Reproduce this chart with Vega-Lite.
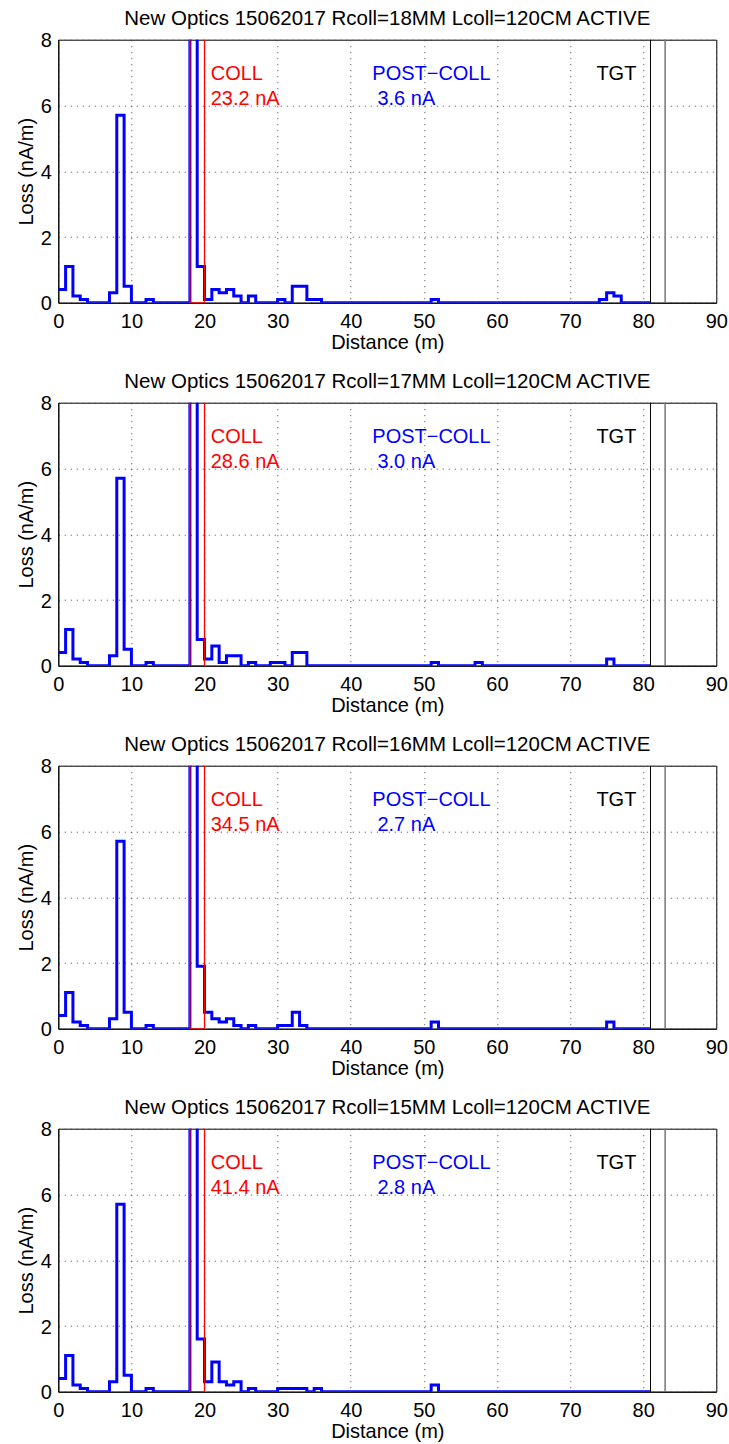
{
  "$schema": "https://vega.github.io/schema/vega-lite/v6.json",
  "padding": {"left": 15.3, "top": 7.7, "right": 5, "bottom": 5},
  "spacing": 17,
  "datasets": {
    "loss": [
      {"panel": 18, "x": 0, "loss": 0.4}, {"panel": 18, "x": 1, "loss": 1.1}, {"panel": 18, "x": 2, "loss": 0.2}, {"panel": 18, "x": 3, "loss": 0.1}, {"panel": 18, "x": 4, "loss": 0}, {"panel": 18, "x": 7, "loss": 0.3}, {"panel": 18, "x": 8, "loss": 5.7}, {"panel": 18, "x": 9, "loss": 0.5}, {"panel": 18, "x": 10, "loss": 0}, {"panel": 18, "x": 12, "loss": 0.1}, {"panel": 18, "x": 13, "loss": 0}, {"panel": 18, "x": 18, "loss": 22.1}, {"panel": 18, "x": 19, "loss": 1.1}, {"panel": 18, "x": 20, "loss": 0.1}, {"panel": 18, "x": 21, "loss": 0.4}, {"panel": 18, "x": 22, "loss": 0.3}, {"panel": 18, "x": 23, "loss": 0.4}, {"panel": 18, "x": 24, "loss": 0.2}, {"panel": 18, "x": 25, "loss": 0}, {"panel": 18, "x": 26, "loss": 0.2}, {"panel": 18, "x": 27, "loss": 0}, {"panel": 18, "x": 30, "loss": 0.1}, {"panel": 18, "x": 31, "loss": 0}, {"panel": 18, "x": 32, "loss": 0.5}, {"panel": 18, "x": 34, "loss": 0.1}, {"panel": 18, "x": 36, "loss": 0}, {"panel": 18, "x": 51, "loss": 0.1}, {"panel": 18, "x": 52, "loss": 0}, {"panel": 18, "x": 74, "loss": 0.1}, {"panel": 18, "x": 75, "loss": 0.3}, {"panel": 18, "x": 76, "loss": 0.2}, {"panel": 18, "x": 77, "loss": 0}, {"panel": 18, "x": 81, "loss": 0},
      {"panel": 17, "x": 0, "loss": 0.4}, {"panel": 17, "x": 1, "loss": 1.1}, {"panel": 17, "x": 2, "loss": 0.2}, {"panel": 17, "x": 3, "loss": 0.1}, {"panel": 17, "x": 4, "loss": 0}, {"panel": 17, "x": 7, "loss": 0.3}, {"panel": 17, "x": 8, "loss": 5.7}, {"panel": 17, "x": 9, "loss": 0.5}, {"panel": 17, "x": 10, "loss": 0}, {"panel": 17, "x": 12, "loss": 0.1}, {"panel": 17, "x": 13, "loss": 0}, {"panel": 17, "x": 18, "loss": 27.8}, {"panel": 17, "x": 19, "loss": 0.8}, {"panel": 17, "x": 20, "loss": 0.2}, {"panel": 17, "x": 21, "loss": 0.6}, {"panel": 17, "x": 22, "loss": 0.1}, {"panel": 17, "x": 23, "loss": 0.3}, {"panel": 17, "x": 25, "loss": 0}, {"panel": 17, "x": 26, "loss": 0.1}, {"panel": 17, "x": 27, "loss": 0}, {"panel": 17, "x": 29, "loss": 0.1}, {"panel": 17, "x": 31, "loss": 0}, {"panel": 17, "x": 32, "loss": 0.4}, {"panel": 17, "x": 34, "loss": 0}, {"panel": 17, "x": 51, "loss": 0.1}, {"panel": 17, "x": 52, "loss": 0}, {"panel": 17, "x": 57, "loss": 0.1}, {"panel": 17, "x": 58, "loss": 0}, {"panel": 17, "x": 75, "loss": 0.2}, {"panel": 17, "x": 76, "loss": 0}, {"panel": 17, "x": 81, "loss": 0},
      {"panel": 16, "x": 0, "loss": 0.4}, {"panel": 16, "x": 1, "loss": 1.1}, {"panel": 16, "x": 2, "loss": 0.2}, {"panel": 16, "x": 3, "loss": 0.1}, {"panel": 16, "x": 4, "loss": 0}, {"panel": 16, "x": 7, "loss": 0.3}, {"panel": 16, "x": 8, "loss": 5.7}, {"panel": 16, "x": 9, "loss": 0.5}, {"panel": 16, "x": 10, "loss": 0}, {"panel": 16, "x": 12, "loss": 0.1}, {"panel": 16, "x": 13, "loss": 0}, {"panel": 16, "x": 18, "loss": 32.6}, {"panel": 16, "x": 19, "loss": 1.9}, {"panel": 16, "x": 20, "loss": 0.5}, {"panel": 16, "x": 21, "loss": 0.3}, {"panel": 16, "x": 22, "loss": 0.2}, {"panel": 16, "x": 23, "loss": 0.3}, {"panel": 16, "x": 24, "loss": 0.1}, {"panel": 16, "x": 25, "loss": 0}, {"panel": 16, "x": 26, "loss": 0.1}, {"panel": 16, "x": 27, "loss": 0}, {"panel": 16, "x": 30, "loss": 0.1}, {"panel": 16, "x": 32, "loss": 0.5}, {"panel": 16, "x": 33, "loss": 0.1}, {"panel": 16, "x": 34, "loss": 0}, {"panel": 16, "x": 51, "loss": 0.2}, {"panel": 16, "x": 52, "loss": 0}, {"panel": 16, "x": 75, "loss": 0.2}, {"panel": 16, "x": 76, "loss": 0}, {"panel": 16, "x": 81, "loss": 0},
      {"panel": 15, "x": 0, "loss": 0.4}, {"panel": 15, "x": 1, "loss": 1.1}, {"panel": 15, "x": 2, "loss": 0.2}, {"panel": 15, "x": 3, "loss": 0.1}, {"panel": 15, "x": 4, "loss": 0}, {"panel": 15, "x": 7, "loss": 0.3}, {"panel": 15, "x": 8, "loss": 5.7}, {"panel": 15, "x": 9, "loss": 0.5}, {"panel": 15, "x": 10, "loss": 0}, {"panel": 15, "x": 12, "loss": 0.1}, {"panel": 15, "x": 13, "loss": 0}, {"panel": 15, "x": 18, "loss": 39.8}, {"panel": 15, "x": 19, "loss": 1.6}, {"panel": 15, "x": 20, "loss": 0.3}, {"panel": 15, "x": 21, "loss": 0.9}, {"panel": 15, "x": 22, "loss": 0.3}, {"panel": 15, "x": 23, "loss": 0.2}, {"panel": 15, "x": 24, "loss": 0.3}, {"panel": 15, "x": 25, "loss": 0}, {"panel": 15, "x": 26, "loss": 0.1}, {"panel": 15, "x": 27, "loss": 0}, {"panel": 15, "x": 30, "loss": 0.1}, {"panel": 15, "x": 34, "loss": 0}, {"panel": 15, "x": 35, "loss": 0.1}, {"panel": 15, "x": 36, "loss": 0}, {"panel": 15, "x": 51, "loss": 0.2}, {"panel": 15, "x": 52, "loss": 0}, {"panel": 15, "x": 81, "loss": 0}
    ],
    "labels": [
      {"panel": 18, "text": "COLL", "x": 20.85, "y": 6.78, "kind": "coll"}, {"panel": 18, "text": "23.2 nA", "x": 20.85, "y": 6.0, "kind": "coll"}, {"panel": 18, "text": "POST−COLL", "x": 42.95, "y": 6.78, "kind": "post"}, {"panel": 18, "text": "3.6 nA", "x": 43.65, "y": 6.0, "kind": "post"}, {"panel": 18, "text": "TGT", "x": 73.6, "y": 6.78, "kind": "tgt"},
      {"panel": 17, "text": "COLL", "x": 20.85, "y": 6.78, "kind": "coll"}, {"panel": 17, "text": "28.6 nA", "x": 20.85, "y": 6.0, "kind": "coll"}, {"panel": 17, "text": "POST−COLL", "x": 42.95, "y": 6.78, "kind": "post"}, {"panel": 17, "text": "3.0 nA", "x": 43.65, "y": 6.0, "kind": "post"}, {"panel": 17, "text": "TGT", "x": 73.6, "y": 6.78, "kind": "tgt"},
      {"panel": 16, "text": "COLL", "x": 20.85, "y": 6.78, "kind": "coll"}, {"panel": 16, "text": "34.5 nA", "x": 20.85, "y": 6.0, "kind": "coll"}, {"panel": 16, "text": "POST−COLL", "x": 42.95, "y": 6.78, "kind": "post"}, {"panel": 16, "text": "2.7 nA", "x": 43.65, "y": 6.0, "kind": "post"}, {"panel": 16, "text": "TGT", "x": 73.6, "y": 6.78, "kind": "tgt"},
      {"panel": 15, "text": "COLL", "x": 20.85, "y": 6.78, "kind": "coll"}, {"panel": 15, "text": "41.4 nA", "x": 20.85, "y": 6.0, "kind": "coll"}, {"panel": 15, "text": "POST−COLL", "x": 42.95, "y": 6.78, "kind": "post"}, {"panel": 15, "text": "2.8 nA", "x": 43.65, "y": 6.0, "kind": "post"}, {"panel": 15, "text": "TGT", "x": 73.6, "y": 6.78, "kind": "tgt"}
    ]
  },
  "vconcat": [
    {
      "title": "New Optics 15062017 Rcoll=18MM Lcoll=120CM ACTIVE",
      "width": 658, "height": 263,
      "layer": [
        {"data": {"name": "loss"}, "transform": [{"filter": "datum.panel == 18"}],
         "mark": {"type": "line", "interpolate": "step-after", "color": "#0000ff", "strokeWidth": 3, "clip": true, "strokeJoin": "miter"},
         "encoding": {
           "x": {"field": "x", "type": "quantitative", "scale": {"domain": [0, 90], "nice": false, "zero": false}, "axis": {"title": "Distance (m)", "values": [0, 10, 20, 30, 40, 50, 60, 70, 80, 90], "titleY": 46, "titleX": 329, "titleBaseline": "alphabetic", "titleAlign": "center"}},
           "y": {"field": "loss", "type": "quantitative", "scale": {"domain": [0, 8], "nice": false}, "axis": {"title": "Loss (nA/m)", "values": [0, 2, 4, 6, 8], "titleX": -26, "titleY": 131.5, "titleAngle": -90, "titleBaseline": "alphabetic", "titleAlign": "center"}}
         }},
        {"data": {"values": [{}]}, "mark": {"type": "rect", "filled": false, "color": "#ff0000", "strokeWidth": 1.3, "clip": true}, "encoding": {"x": {"datum": 18}, "x2": {"datum": 20}, "y": {"datum": 0}, "y2": {"datum": 9}}},
        {"data": {"values": [{}]}, "mark": {"type": "rule", "color": "#000000", "strokeWidth": 1}, "encoding": {"x": {"datum": 81}}},
        {"data": {"values": [{}]}, "mark": {"type": "rule", "color": "#777777", "strokeWidth": 1.5}, "encoding": {"x": {"datum": 83}}},
        {"data": {"name": "labels"}, "transform": [{"filter": "datum.panel == 18"}],
         "mark": {"type": "text", "align": "left", "baseline": "alphabetic", "font": "Liberation Sans", "fontSize": 20},
         "encoding": {"x": {"field": "x", "type": "quantitative"}, "y": {"field": "y", "type": "quantitative"}, "text": {"field": "text"},
           "color": {"field": "kind", "type": "nominal", "scale": {"domain": ["coll", "post", "tgt"], "range": ["#ff0000", "#0000ff", "#000000"]}, "legend": null}}}
      ]
    },
    {
      "title": "New Optics 15062017 Rcoll=17MM Lcoll=120CM ACTIVE",
      "width": 658, "height": 263,
      "layer": [
        {"data": {"name": "loss"}, "transform": [{"filter": "datum.panel == 17"}],
         "mark": {"type": "line", "interpolate": "step-after", "color": "#0000ff", "strokeWidth": 3, "clip": true, "strokeJoin": "miter"},
         "encoding": {
           "x": {"field": "x", "type": "quantitative", "scale": {"domain": [0, 90], "nice": false, "zero": false}, "axis": {"title": "Distance (m)", "values": [0, 10, 20, 30, 40, 50, 60, 70, 80, 90], "titleY": 46, "titleX": 329, "titleBaseline": "alphabetic", "titleAlign": "center"}},
           "y": {"field": "loss", "type": "quantitative", "scale": {"domain": [0, 8], "nice": false}, "axis": {"title": "Loss (nA/m)", "values": [0, 2, 4, 6, 8], "titleX": -26, "titleY": 131.5, "titleAngle": -90, "titleBaseline": "alphabetic", "titleAlign": "center"}}
         }},
        {"data": {"values": [{}]}, "mark": {"type": "rect", "filled": false, "color": "#ff0000", "strokeWidth": 1.3, "clip": true}, "encoding": {"x": {"datum": 18}, "x2": {"datum": 20}, "y": {"datum": 0}, "y2": {"datum": 9}}},
        {"data": {"values": [{}]}, "mark": {"type": "rule", "color": "#000000", "strokeWidth": 1}, "encoding": {"x": {"datum": 81}}},
        {"data": {"values": [{}]}, "mark": {"type": "rule", "color": "#777777", "strokeWidth": 1.5}, "encoding": {"x": {"datum": 83}}},
        {"data": {"name": "labels"}, "transform": [{"filter": "datum.panel == 17"}],
         "mark": {"type": "text", "align": "left", "baseline": "alphabetic", "font": "Liberation Sans", "fontSize": 20},
         "encoding": {"x": {"field": "x", "type": "quantitative"}, "y": {"field": "y", "type": "quantitative"}, "text": {"field": "text"},
           "color": {"field": "kind", "type": "nominal", "scale": {"domain": ["coll", "post", "tgt"], "range": ["#ff0000", "#0000ff", "#000000"]}, "legend": null}}}
      ]
    },
    {
      "title": "New Optics 15062017 Rcoll=16MM Lcoll=120CM ACTIVE",
      "width": 658, "height": 263,
      "layer": [
        {"data": {"name": "loss"}, "transform": [{"filter": "datum.panel == 16"}],
         "mark": {"type": "line", "interpolate": "step-after", "color": "#0000ff", "strokeWidth": 3, "clip": true, "strokeJoin": "miter"},
         "encoding": {
           "x": {"field": "x", "type": "quantitative", "scale": {"domain": [0, 90], "nice": false, "zero": false}, "axis": {"title": "Distance (m)", "values": [0, 10, 20, 30, 40, 50, 60, 70, 80, 90], "titleY": 46, "titleX": 329, "titleBaseline": "alphabetic", "titleAlign": "center"}},
           "y": {"field": "loss", "type": "quantitative", "scale": {"domain": [0, 8], "nice": false}, "axis": {"title": "Loss (nA/m)", "values": [0, 2, 4, 6, 8], "titleX": -26, "titleY": 131.5, "titleAngle": -90, "titleBaseline": "alphabetic", "titleAlign": "center"}}
         }},
        {"data": {"values": [{}]}, "mark": {"type": "rect", "filled": false, "color": "#ff0000", "strokeWidth": 1.3, "clip": true}, "encoding": {"x": {"datum": 18}, "x2": {"datum": 20}, "y": {"datum": 0}, "y2": {"datum": 9}}},
        {"data": {"values": [{}]}, "mark": {"type": "rule", "color": "#000000", "strokeWidth": 1}, "encoding": {"x": {"datum": 81}}},
        {"data": {"values": [{}]}, "mark": {"type": "rule", "color": "#777777", "strokeWidth": 1.5}, "encoding": {"x": {"datum": 83}}},
        {"data": {"name": "labels"}, "transform": [{"filter": "datum.panel == 16"}],
         "mark": {"type": "text", "align": "left", "baseline": "alphabetic", "font": "Liberation Sans", "fontSize": 20},
         "encoding": {"x": {"field": "x", "type": "quantitative"}, "y": {"field": "y", "type": "quantitative"}, "text": {"field": "text"},
           "color": {"field": "kind", "type": "nominal", "scale": {"domain": ["coll", "post", "tgt"], "range": ["#ff0000", "#0000ff", "#000000"]}, "legend": null}}}
      ]
    },
    {
      "title": "New Optics 15062017 Rcoll=15MM Lcoll=120CM ACTIVE",
      "width": 658, "height": 263,
      "layer": [
        {"data": {"name": "loss"}, "transform": [{"filter": "datum.panel == 15"}],
         "mark": {"type": "line", "interpolate": "step-after", "color": "#0000ff", "strokeWidth": 3, "clip": true, "strokeJoin": "miter"},
         "encoding": {
           "x": {"field": "x", "type": "quantitative", "scale": {"domain": [0, 90], "nice": false, "zero": false}, "axis": {"title": "Distance (m)", "values": [0, 10, 20, 30, 40, 50, 60, 70, 80, 90], "titleY": 46, "titleX": 329, "titleBaseline": "alphabetic", "titleAlign": "center"}},
           "y": {"field": "loss", "type": "quantitative", "scale": {"domain": [0, 8], "nice": false}, "axis": {"title": "Loss (nA/m)", "values": [0, 2, 4, 6, 8], "titleX": -26, "titleY": 131.5, "titleAngle": -90, "titleBaseline": "alphabetic", "titleAlign": "center"}}
         }},
        {"data": {"values": [{}]}, "mark": {"type": "rect", "filled": false, "color": "#ff0000", "strokeWidth": 1.3, "clip": true}, "encoding": {"x": {"datum": 18}, "x2": {"datum": 20}, "y": {"datum": 0}, "y2": {"datum": 9}}},
        {"data": {"values": [{}]}, "mark": {"type": "rule", "color": "#000000", "strokeWidth": 1}, "encoding": {"x": {"datum": 81}}},
        {"data": {"values": [{}]}, "mark": {"type": "rule", "color": "#777777", "strokeWidth": 1.5}, "encoding": {"x": {"datum": 83}}},
        {"data": {"name": "labels"}, "transform": [{"filter": "datum.panel == 15"}],
         "mark": {"type": "text", "align": "left", "baseline": "alphabetic", "font": "Liberation Sans", "fontSize": 20},
         "encoding": {"x": {"field": "x", "type": "quantitative"}, "y": {"field": "y", "type": "quantitative"}, "text": {"field": "text"},
           "color": {"field": "kind", "type": "nominal", "scale": {"domain": ["coll", "post", "tgt"], "range": ["#ff0000", "#0000ff", "#000000"]}, "legend": null}}}
      ]
    }
  ],
  "config": {
    "font": "Liberation Sans",
    "background": "white",
    "view": {"stroke": "#000000", "strokeWidth": 1},
    "title": {"font": "Liberation Sans", "fontSize": 20.5, "fontWeight": "normal", "color": "#000000", "baseline": "alphabetic", "offset": 1.4, "anchor": "middle", "frame": "group"},
    "axis": {
      "labelFont": "Liberation Sans", "labelFontSize": 20, "labelColor": "#000000",
      "titleFont": "Liberation Sans", "titleFontSize": 20, "titleFontWeight": "normal", "titleColor": "#000000",
      "domainColor": "#000000", "domainWidth": 1,
      "ticks": false,
      "grid": true, "gridColor": "#444444", "gridDash": [1, 5], "gridOpacity": 1, "gridWidth": 1
    },
    "axisX": {"labelPadding": 9, "labelFlush": false, "labelOverlap": false},
    "axisY": {"labelPadding": 7, "labelOffset": 1.2, "labelOverlap": false}
  }
}
